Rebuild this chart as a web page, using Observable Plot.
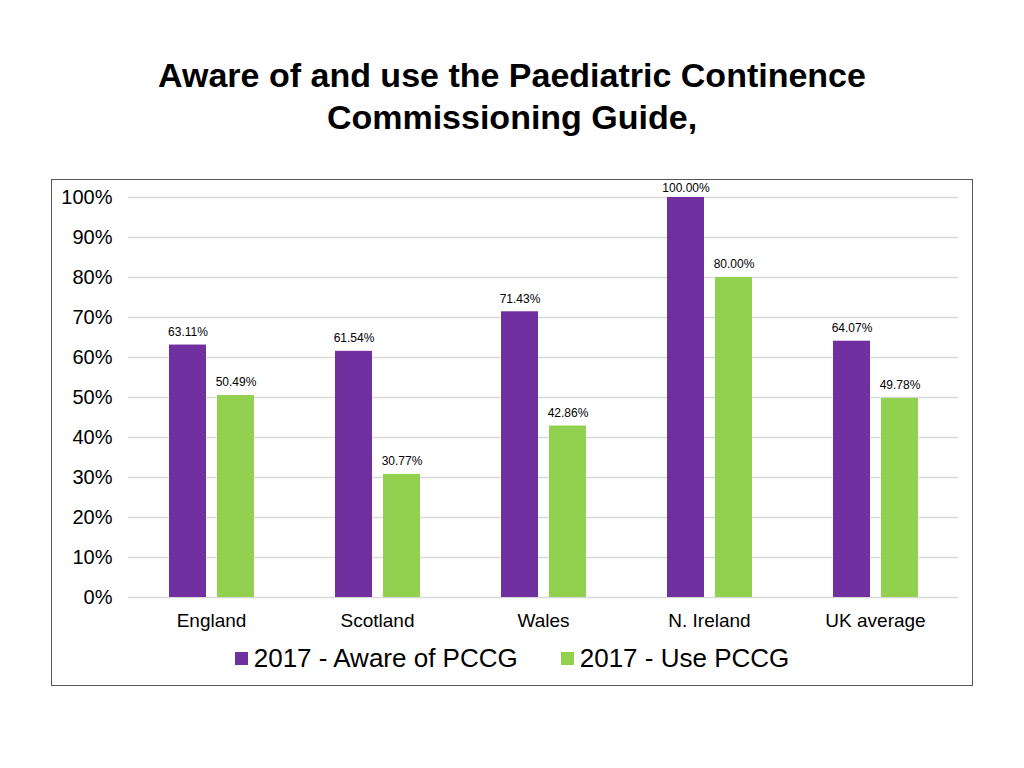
<!DOCTYPE html>
<html>
<head>
<meta charset="utf-8">
<script src="https://cdn.jsdelivr.net/npm/d3@7"></script>
<script src="https://cdn.jsdelivr.net/npm/@observablehq/plot@0.6"></script>
<style>
  body { margin: 0; background: #fff; font-family: "Liberation Sans", Arial, sans-serif; }
  #title { position: absolute; top: 54px; left: 0; width: 1024px; text-align: center;
           font-weight: bold; font-size: 34px; line-height: 42px; color: #000; }
  #box { position: absolute; left: 51px; top: 179px; width: 920px; height: 505px;
         border: 1px solid #555; }
  #legend { display: flex; justify-content: center; gap: 43px; font-size: 26px; color: #000;
            margin-top: 3px; }
  .item { display: flex; align-items: center; }
  .sw { width: 13px; height: 13px; margin-right: 6px; }
</style>
</head>
<body>
<div id="title">Aware of and use the Paediatric Continence<br>Commissioning Guide,</div>
<div id="box"><div id="chart"></div><div id="legend"></div></div>
<script>
const countries = ["England", "Scotland", "Wales", "N. Ireland", "UK average"];
const series = ["2017 - Aware of PCCG", "2017 - Use PCCG"];
const aware = [63.11, 61.54, 71.43, 100.00, 64.07];
const use = [50.49, 30.77, 42.86, 80.00, 49.78];
const colors = ["#7030A0", "#92D050"];
const yTicks = [0, 10, 20, 30, 40, 50, 60, 70, 80, 90, 100];

const rows = [];
countries.forEach((c, i) => {
  rows.push({country: c, series: series[0], value: aware[i]});
  rows.push({country: c, series: series[1], value: use[i]});
});

const fmt = d => d.value.toFixed(2) + "%";

const chart = Plot.plot({
  width: 920,
  height: 460,
  marginLeft: 76,
  marginRight: 14,
  marginTop: 17,
  marginBottom: 43,
  style: {fontFamily: "Liberation Sans, Arial, sans-serif", fontSize: "19px", color: "#000", background: "#fff"},
  facet: {data: rows, x: "country"},
  fx: {domain: countries, padding: 0, label: null, tickSize: 0, tickPadding: 16},
  x: {domain: series, axis: null, paddingInner: 0.23, paddingOuter: 0.84},
  y: {domain: [0, 100], ticks: yTicks, tickFormat: d => d + "%", tickSize: 0, tickPadding: 16, label: null},
  color: {domain: series, range: colors},
  marks: [
    Plot.ruleY(yTicks, {stroke: "#d9d9d9", strokeWidth: 1.3}),
    Plot.barY(rows, {x: "series", y: "value", fill: "series"}),
    Plot.text(rows, {filter: d => d.value < 100, x: "series", y: "value", text: fmt, dy: -13, fontSize: 12, fill: "#000"}),
    Plot.text(rows, {filter: d => d.value >= 100, x: "series", y: "value", text: fmt, dy: -9, fontSize: 12, fill: "#000"})
  ]
});
chart.querySelectorAll("g[aria-label='y-axis tick label'] text, g[aria-label='y-axis'] text").forEach(t => t.setAttribute("font-size", "20"));
document.getElementById("chart").appendChild(chart);

const legend = document.getElementById("legend");
series.forEach((s, i) => {
  const it = document.createElement("div");
  it.className = "item";
  it.innerHTML = `<span class="sw" style="background:${colors[i]}"></span><span>${s}</span>`;
  legend.appendChild(it);
});
</script>
</body>
</html>
